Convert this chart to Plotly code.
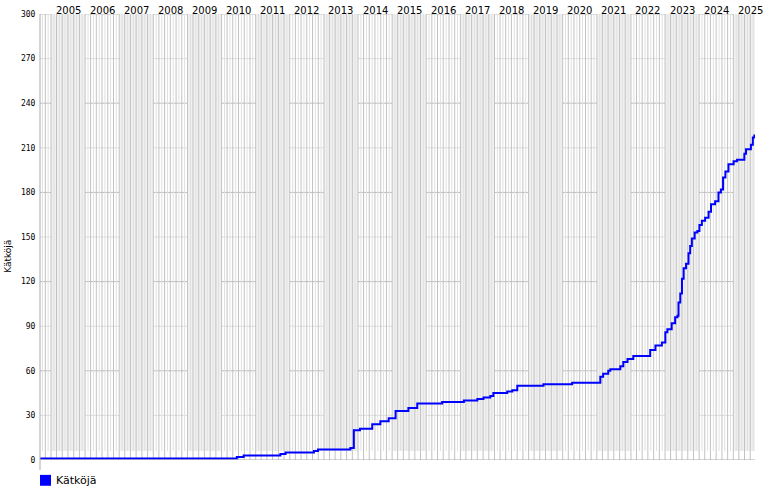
import plotly.graph_objects as go
import pandas as pd

# ---- data (cumulative count, step changes) ----
dates = [
    "2004-09-05", "2010-06-13", "2010-08-25", "2011-09-23", "2011-11-17",
    "2012-09-16", "2012-10-29", "2013-10-11", "2013-11-17", "2014-01-22",
    "2014-06-02", "2014-08-28", "2014-11-25", "2015-02-07", "2015-06-24",
    "2015-09-27", "2016-06-20", "2017-02-07", "2017-07-01", "2017-09-05",
    "2017-11-17", "2017-12-20", "2018-05-17", "2018-07-11", "2018-09-02",
    "2019-06-09", "2020-04-11", "2021-02-07", "2021-03-09", "2021-05-03",
    "2021-05-25", "2021-09-09", "2021-10-11", "2021-11-25", "2022-01-26",
    "2022-07-26", "2022-09-20", "2022-11-28", "2023-01-04", "2023-01-26",
    "2023-03-13", "2023-04-19", "2023-05-14", "2023-05-25", "2023-06-13",
    "2023-07-01", "2023-07-19", "2023-08-14", "2023-09-09", "2023-09-27",
    "2023-10-15", "2023-11-14", "2023-12-13", "2024-01-04", "2024-01-30",
    "2024-03-05", "2024-04-11", "2024-05-07", "2024-06-20", "2024-07-26",
    "2024-08-21", "2024-09-13", "2024-10-08", "2024-11-10", "2025-01-04",
    "2025-02-10", "2025-04-29", "2025-05-17", "2025-07-08", "2025-07-29",
    "2025-08-14",
]
values = [
    1, 2, 3, 4, 5,
    6, 7, 8, 20, 21,
    24, 26, 28, 33, 35,
    38, 39, 40, 41, 42,
    43, 45, 46, 47, 50,
    51, 52, 56, 58, 60,
    61, 63, 66, 68, 70,
    74, 77, 79, 86, 88,
    92, 96, 97, 106, 112,
    122, 129, 132, 139, 144,
    149, 153, 154, 158, 161,
    163, 167, 172, 174, 180,
    182, 190, 194, 199, 201,
    202, 206, 209, 212, 217,
    219,
]
series_name = "Kätköjä"
year_labels = [str(y) for y in range(2005, 2026)]
y_ticks = list(range(0, 301, 30))

X_START, X_END = "2004-09-05", "2025-08-21"
Y_MAX = 300
PW, PH = 715, 450  # plot area size in px

fig = go.Figure()

fig.add_trace(go.Scatter(
    x=dates, y=values, mode="lines", line=dict(color="#0000ff", width=2, shape="hv"),
    name=series_name, showlegend=False, hoverinfo="x+y",
))

shapes = []
# alternating year bands (odd years shaded)
for y in year_labels:
    yi = int(y)
    if yi % 2 == 1:
        shapes.append(dict(type="rect", xref="x", yref="y", layer="below",
                           x0=f"{yi}-01-01", x1=f"{yi+1}-01-01", y0=6, y1=Y_MAX,
                           fillcolor="#f0f0f0", line=dict(width=0)))
# monthly grid lines
months = pd.date_range("2004-10-01", "2025-08-01", freq="MS")
for m in months:
    dark = (m.month % 2 == 1)
    shapes.append(dict(type="line", xref="x", yref="y", layer="below",
                       x0=m.strftime("%Y-%m-%d"), x1=m.strftime("%Y-%m-%d"),
                       y0=0 if dark else 6, y1=Y_MAX,
                       line=dict(color="#c2c2c2" if dark else "#e0e0e0", width=1)))
# horizontal grid lines
for v in y_ticks[1:]:
    shapes.append(dict(type="line", xref="paper", yref="y", layer="below",
                       x0=0, x1=1, y0=v, y1=v,
                       line=dict(color="#bbbbbb" if v % 60 == 0 else "#dddddd", width=1)))
# axes lines
shapes.append(dict(type="line", xref="paper", yref="paper", x0=0, x1=0, y0=-10/PH, y1=1,
                   line=dict(color="#aaaaaa", width=1)))
shapes.append(dict(type="line", xref="paper", yref="y", x0=0, x1=1, y0=0, y1=0,
                   line=dict(color="#aaaaaa", width=1)))
# legend swatch
shapes.append(dict(type="rect", xref="paper", yref="paper",
                   x0=0, x1=11/PW, y0=-15/PH, y1=-26/PH,
                   fillcolor="#0000ff", line=dict(width=0)))

annotations = []
for y in year_labels:
    annotations.append(dict(x=f"{y}-07-02", y=1 + 4/PH, xref="x", yref="paper",
                            text=y, showarrow=False, yanchor="middle", xanchor="center",
                            font=dict(family="DejaVu Sans", size=10, color="#000000")))
annotations.append(dict(x=14/PW, y=-20.5/PH, xref="paper", yref="paper", text=series_name,
                        showarrow=False, xanchor="left", yanchor="middle",
                        font=dict(family="DejaVu Sans", size=11, color="#000000")))
annotations.append(dict(x=-32/PW, y=(460 - 255)/PH, xref="paper", yref="paper",
                        text=series_name, textangle=-90, showarrow=False,
                        xanchor="center", yanchor="middle",
                        font=dict(family="DejaVu Sans", size=9, color="#000000")))

fig.update_layout(
    width=770, height=500,
    margin=dict(l=40, r=15, t=10, b=40, pad=0),
    paper_bgcolor="white", plot_bgcolor="white",
    shapes=shapes, annotations=annotations,
    xaxis=dict(range=[X_START, X_END], showgrid=False, showticklabels=False,
               zeroline=False, showline=False, ticks="", fixedrange=True),
    yaxis=dict(range=[0, Y_MAX], tickvals=y_ticks, ticktext=[str(v) for v in y_ticks],
               showgrid=False, zeroline=False, showline=False, ticks="outside",
               ticklen=2, tickcolor="rgba(0,0,0,0)",
               tickfont=dict(family="DejaVu Sans Mono", size=8, color="#000000"),
               fixedrange=True),
    showlegend=False,
)

fig.write_html("out.html", config={"displayModeBar": False},
               post_script="document.body.style.margin='0';")
